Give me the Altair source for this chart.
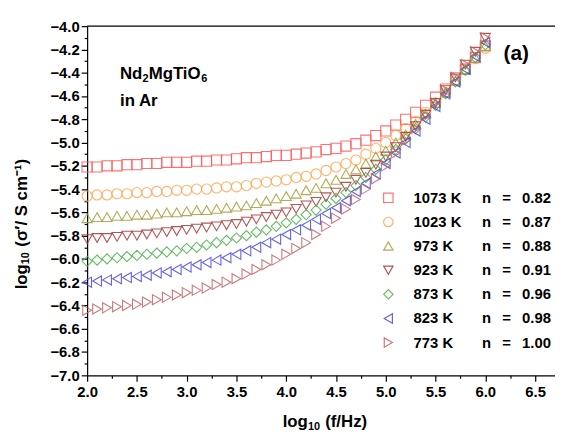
import altair as alt
import pandas as pd

log_f = [2.0, 2.1, 2.2, 2.3, 2.4, 2.5, 2.6, 2.7, 2.8, 2.9,
         3.0, 3.1, 3.2, 3.3, 3.4, 3.5, 3.6, 3.7, 3.8, 3.9,
         4.0, 4.1, 4.2, 4.3, 4.4, 4.5, 4.6, 4.7, 4.8, 4.9,
         5.0, 5.1, 5.2, 5.3, 5.4, 5.5, 5.6, 5.7, 5.8, 5.9, 6.0]

temps = ["1073 K", "1023 K", "973 K", "923 K", "873 K", "823 K", "773 K"]
n_values = ["0.82", "0.87", "0.88", "0.91", "0.96", "0.98", "1.00"]

s1073 = [-5.21, -5.21, -5.20, -5.20, -5.19, -5.19, -5.18, -5.18, -5.17, -5.17,
         -5.17, -5.16, -5.16, -5.15, -5.15, -5.14, -5.13, -5.13, -5.12, -5.11,
         -5.11, -5.10, -5.09, -5.08, -5.06, -5.05, -5.03, -5.01, -4.98, -4.94,
         -4.90, -4.85, -4.80, -4.74, -4.68, -4.61, -4.54, -4.46, -4.37, -4.27, -4.17]
s1023 = [-5.46, -5.45, -5.45, -5.44, -5.44, -5.43, -5.43, -5.42, -5.42, -5.41,
         -5.41, -5.40, -5.40, -5.39, -5.38, -5.38, -5.37, -5.35, -5.34, -5.33,
         -5.32, -5.30, -5.29, -5.27, -5.24, -5.21, -5.18, -5.15, -5.10, -5.05,
         -5.00, -4.94, -4.88, -4.82, -4.74, -4.66, -4.57, -4.47, -4.37, -4.28, -4.19]
s973 = [-5.65, -5.64, -5.64, -5.63, -5.63, -5.62, -5.62, -5.61, -5.60, -5.60,
        -5.59, -5.58, -5.58, -5.57, -5.56, -5.55, -5.54, -5.52, -5.50, -5.48,
        -5.46, -5.44, -5.41, -5.39, -5.35, -5.32, -5.27, -5.23, -5.18, -5.12,
        -5.07, -5.00, -4.93, -4.84, -4.75, -4.66, -4.57, -4.47, -4.37, -4.27, -4.17]
s923 = [-5.83, -5.82, -5.82, -5.81, -5.80, -5.80, -5.79, -5.78, -5.77, -5.76,
        -5.75, -5.74, -5.73, -5.72, -5.71, -5.70, -5.68, -5.66, -5.64, -5.62,
        -5.60, -5.57, -5.54, -5.51, -5.47, -5.43, -5.38, -5.32, -5.26, -5.19,
        -5.12, -5.04, -4.95, -4.86, -4.76, -4.66, -4.55, -4.44, -4.33, -4.22, -4.10]
s873 = [-6.02, -6.01, -6.00, -5.99, -5.98, -5.97, -5.96, -5.95, -5.94, -5.93,
        -5.91, -5.90, -5.88, -5.86, -5.84, -5.82, -5.80, -5.77, -5.75, -5.72,
        -5.69, -5.66, -5.62, -5.58, -5.53, -5.48, -5.43, -5.37, -5.30, -5.23,
        -5.15, -5.06, -4.97, -4.88, -4.78, -4.68, -4.58, -4.48, -4.38, -4.27, -4.16]
s823 = [-6.20, -6.19, -6.18, -6.17, -6.16, -6.15, -6.14, -6.12, -6.11, -6.09,
        -6.07, -6.05, -6.03, -6.01, -5.99, -5.96, -5.93, -5.90, -5.86, -5.83,
        -5.79, -5.75, -5.71, -5.66, -5.61, -5.56, -5.50, -5.42, -5.35, -5.27,
        -5.18, -5.09, -5.00, -4.90, -4.80, -4.69, -4.58, -4.48, -4.37, -4.26, -4.14]
s773 = [-6.44, -6.43, -6.42, -6.41, -6.40, -6.39, -6.37, -6.35, -6.33, -6.31,
        -6.29, -6.27, -6.25, -6.22, -6.20, -6.17, -6.13, -6.09, -6.05, -6.01,
        -5.96, -5.91, -5.86, -5.79, -5.72, -5.65, -5.57, -5.49, -5.40, -5.31,
        -5.20, -5.09, -4.98, -4.88, -4.77, -4.66, -4.55, -4.44, -4.33, -4.22, -4.10]

series = [s1073, s1023, s973, s923, s873, s823, s773]

colors = ["#ff5a5a", "#ffa54f", "#a3a03a", "#a83a3a", "#4caf4c", "#4848e0", "#c06464"]
shapes = ["square", "circle", "triangle-up", "triangle-down", "diamond",
          "triangle-left", "triangle-right"]

NB = "\u00a0"
GAP = "\u00a0\u2009\u00a0"
labels = []
for t, n in zip(temps, n_values):
    pad = NB * (5 if len(t) == 6 else 7)
    labels.append(f"{t}{pad}n{GAP}={GAP}{n}")

rows = []
for i, (lab, vals) in enumerate(zip(labels, series)):
    for xf, v in zip(log_f, vals):
        rows.append({"logf": xf, "sigma": v, "label": lab, "k": i})
df = pd.DataFrame(rows)

x_major = [2.0, 2.5, 3.0, 3.5, 4.0, 4.5, 5.0, 5.5, 6.0, 6.5]
x_minor = [2.25, 2.75, 3.25, 3.75, 4.25, 4.75, 5.25, 5.75, 6.25]
y_major = [-4.0, -4.2, -4.4, -4.6, -4.8, -5.0, -5.2, -5.4, -5.6, -5.8,
           -6.0, -6.2, -6.4, -6.6, -6.8, -7.0]
y_minor = [-4.1, -4.3, -4.5, -4.7, -4.9, -5.1, -5.3, -5.5, -5.7, -5.9,
           -6.1, -6.3, -6.5, -6.7, -6.9]

FONT = "Liberation Sans"
xscale = alt.Scale(domain=[2.0, 6.70], nice=False, zero=False)
yscale = alt.Scale(domain=[-7.0, -4.0], nice=False, zero=False)

legend = alt.Legend(
    title=None, orient="none", legendX=297, legendY=166,
    labelFont=FONT, labelFontSize=15, labelFontWeight="bold", labelColor="black",
    labelOffset=18, symbolSize=90, symbolStrokeWidth=1.2, rowPadding=8.4,
    padding=0, labelLimit=300,
)

points = alt.Chart(df).mark_point(filled=False, size=105, strokeWidth=1.1, opacity=0.85).encode(
    x=alt.X("logf:Q", scale=xscale,
            axis=alt.Axis(values=x_major, format=".1f", title=None,
                          orient="bottom", tickSize=6, labelPadding=3, labelFlush=False)),
    y=alt.Y("sigma:Q", scale=yscale,
            axis=alt.Axis(values=y_major, format=".1f", title=None,
                          orient="left", tickSize=6, labelPadding=2, labelFlush=False)),
    color=alt.Color("label:N", sort=labels,
                    scale=alt.Scale(domain=labels, range=colors), legend=legend),
    shape=alt.Shape("label:N", sort=labels,
                    scale=alt.Scale(domain=labels, range=shapes), legend=legend),
    order=alt.Order("k:Q"),
)

minor = alt.Chart(df).mark_point(opacity=0).encode(
    x=alt.X("logf:Q", scale=xscale,
            axis=alt.Axis(values=x_minor, labels=False, title=None, orient="bottom",
                          tickSize=3, domain=False)),
    y=alt.Y("sigma:Q", scale=yscale,
            axis=alt.Axis(values=y_minor, labels=False, title=None, orient="left",
                          tickSize=3, domain=False)),
)

top_line = alt.Chart(pd.DataFrame({"y": [-4.0]})).mark_rule(
    color="black", strokeWidth=1.2
).encode(y=alt.Y("y:Q", scale=yscale, axis=None))


def text_pieces(parts, xs, ys, sizes, angle=0):
    return alt.Chart(pd.DataFrame({"t": parts, "x": xs, "y": ys, "s": sizes})).mark_text(
        align="left", baseline="middle", font=FONT, fontWeight="bold", color="black",
        angle=angle,
    ).encode(x=alt.X("x:Q", scale=xscale, axis=None), y=alt.Y("y:Q", scale=yscale, axis=None),
             text="t:N", size=alt.Size("s:Q", scale=None, legend=None))


# formula label "Nd2MgTiO6" with real subscripts
formula = text_pieces(["Nd", "2", "MgTiO", "6"],
                      [2.33, 2.556, 2.618, 3.147],
                      [-4.41, -4.455, -4.41, -4.455],
                      [17, 11, 17, 11])

# axis titles: log10 (f/Hz) and log10 (sigma'/ S cm-1)
x_title = text_pieces(["log", "10", "(f/Hz)"],
                      [3.964, 4.218, 4.391],
                      [-7.405, -7.445, -7.405],
                      [17, 11, 17])
y_title = text_pieces(["log", "10", "(σ′/ S cm⁻¹)"],
                      [1.344, 1.384, 1.344],
                      [-6.261, -6.045, -5.895],
                      [17, 11, 17], angle=270)

annot = alt.Chart(pd.DataFrame({"t": ["in Ar"], "x": [2.33], "y": [-4.64]})).mark_text(
    align="left", baseline="middle", font=FONT, fontSize=17, fontWeight="bold", color="black"
).encode(x=alt.X("x:Q", scale=xscale, axis=None), y=alt.Y("y:Q", scale=yscale, axis=None), text="t:N")

panel = alt.Chart(pd.DataFrame({"t": ["(a)"], "x": [6.31], "y": [-4.24]})).mark_text(
    align="center", baseline="middle", font=FONT, fontSize=21, fontWeight="bold", color="black"
).encode(x=alt.X("x:Q", scale=xscale, axis=None), y=alt.Y("y:Q", scale=yscale, axis=None), text="t:N")

chart = alt.layer(points, minor, top_line, formula, annot, panel, x_title, y_title).resolve_axis(
    x="independent", y="independent"
).properties(
    width=473, height=353,
    autosize=alt.AutoSizeParams(type="none"),
    padding={"left": 80, "top": 16, "right": 0, "bottom": 61},
).configure_view(stroke=None).configure_axis(
    grid=False, labelFont=FONT, labelFontSize=15, labelFontWeight="bold",
    labelColor="black", titleFont=FONT, titleFontWeight="bold", titleColor="black",
    domainColor="black", domainWidth=1.2, tickColor="black", tickWidth=1.2,
).configure_legend(symbolType="circle")

chart.save("out.html", embed_options={"renderer": "svg", "actions": False})
